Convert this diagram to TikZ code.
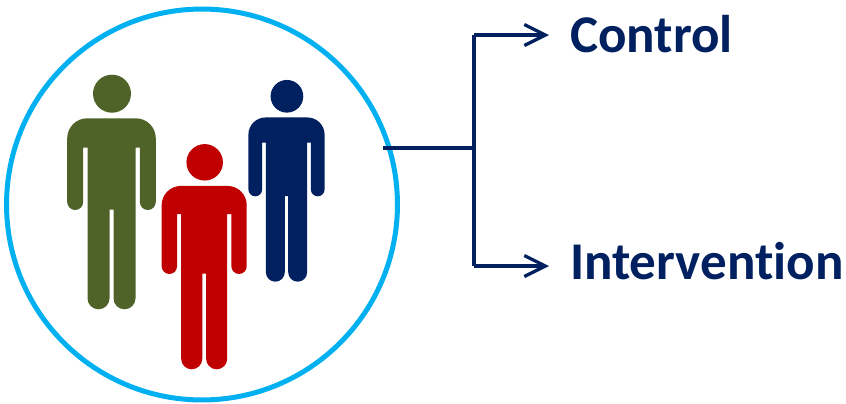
\documentclass[tikz,border=0pt]{standalone}
\usepackage{fontspec}
\setmainfont[Ligatures=CommonOff]{Carlito}
\usetikzlibrary{arrows.meta}
\definecolor{navy}{HTML}{002060}
\definecolor{ringblue}{HTML}{00B0F0}
\definecolor{olive}{HTML}{4F6228}
\definecolor{darkred}{HTML}{C00000}
\tikzset{
  ring/.style={circle,draw=ringblue,line width=0.1cm,minimum size=7.82cm,inner sep=0,outer sep=0},
  branch/.style={draw=navy,line width=0.066cm},
  label/.style={anchor=base west,inner sep=0,outer sep=0,text=navy,font=\fontsize{30.2}{34}\selectfont\bfseries}
}
% #1 = colour, #2 = feet position, #3 = scale
\newcommand{\person}[3]{
\begin{scope}[shift={#2},scale=#3]
\fill[#1](0.5,-215.6)circle(19);
\fill[#1](-2,-99.6)--(-2,-11)arc(0:180:11)--(-24,-161.6)--(-28.3,-161.6)--(-28.3,-107.3)arc(0:180:8)
  --(-44.3,-171)arc(180:270:20)--(24.3,-191)arc(270:360:20)--(44.3,-107.3)arc(0:180:8)
  --(28.3,-161.6)--(24,-161.6)--(24,-11)arc(0:180:11)--(2,-99.6)--cycle;
\end{scope}
}
\begin{document}
\begin{tikzpicture}[x=0.02cm,y=-0.02cm]
\useasboundingbox(0,0)rectangle(846,403);
\node[ring](group)at(202,204.5){};
\person{olive}{(111.5,309.3)}{1}
\person{navy}{(286.5,281.7)}{0.86}
\person{darkred}{(204.2,369.3)}{0.96}
\coordinate(start)at(383,148);
\coordinate(fork)at(474,148);
\coordinate(top)at(474,35);
\coordinate(bottom)at(474,266);
\coordinate(topend)at(549,35);
\coordinate(bottomend)at(549,266);
\node[label](control)at(570,52.7){Control};
\node[label](intervention)at(570,279){Intervention};
\draw[branch](start)--(fork);
\draw[branch](top)--(bottom);
\draw[branch,-{Straight Barb[length=0.42cm,width=0.42cm]}](top)--(topend);
\draw[branch,-{Straight Barb[length=0.42cm,width=0.42cm]}](bottom)--(bottomend);
\end{tikzpicture}
\end{document}
